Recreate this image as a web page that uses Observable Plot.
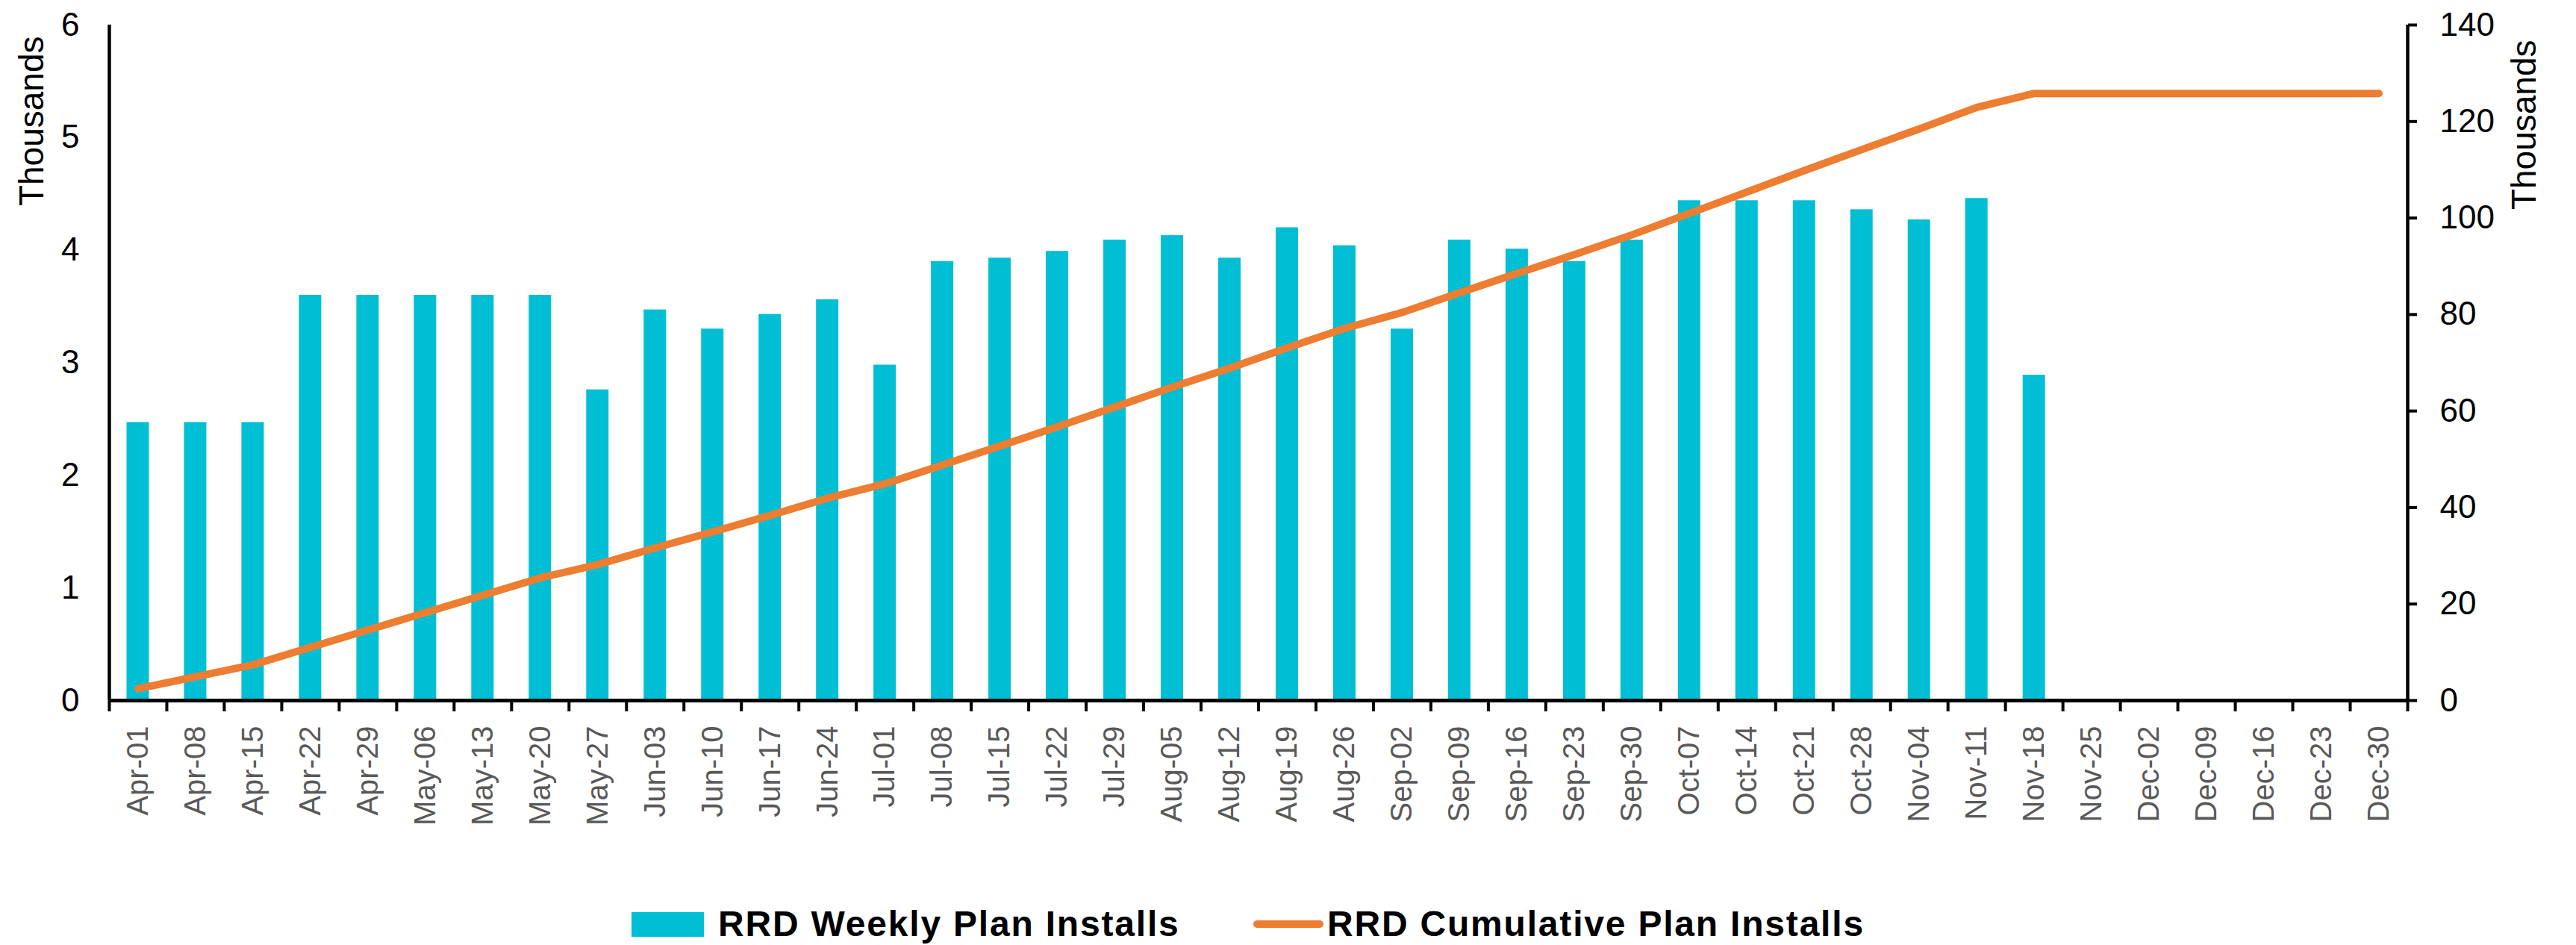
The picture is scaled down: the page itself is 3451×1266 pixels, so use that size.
<!DOCTYPE html>
<html>
<head>
<meta charset="utf-8">
<script src="https://cdn.jsdelivr.net/npm/d3@7"></script>
<script src="https://cdn.jsdelivr.net/npm/@observablehq/plot@0.6"></script>
<style>
html, body { margin: 0; padding: 0; background: #fff; }
#wrap { position: relative; width: 3451px; height: 1266px; overflow: hidden; background: #fff; }
#chart svg { display: block; }
.lg { position: absolute; font-family: "Liberation Sans", Arial, sans-serif; font-weight: bold; font-size: 48px; letter-spacing: 1.8px; color: #000; line-height: 48px; white-space: nowrap; }
.sw { position: absolute; }
</style>
</head>
<body>
<div id="wrap">
  <div id="chart"></div>
  <div id="legend"></div>
</div>
<script>
const weeks = ["Apr-01","Apr-08","Apr-15","Apr-22","Apr-29","May-06","May-13","May-20","May-27",
  "Jun-03","Jun-10","Jun-17","Jun-24","Jul-01","Jul-08","Jul-15","Jul-22","Jul-29",
  "Aug-05","Aug-12","Aug-19","Aug-26","Sep-02","Sep-09","Sep-16","Sep-23","Sep-30",
  "Oct-07","Oct-14","Oct-21","Oct-28","Nov-04","Nov-11","Nov-18","Nov-25",
  "Dec-02","Dec-09","Dec-16","Dec-23","Dec-30"];
// weekly plan installs (thousands)
const weekly = [2.47,2.47,2.47,3.60,3.60,3.60,3.60,3.60,2.76,
  3.47,3.30,3.43,3.56,2.98,3.90,3.93,3.99,4.09,
  4.13,3.93,4.20,4.04,3.30,4.09,4.01,3.90,4.09,
  4.44,4.44,4.44,4.36,4.27,4.46,2.89,null,
  null,null,null,null,null];
// cumulative plan installs (thousands)
const cumulative = [2.47,4.94,7.41,11.01,14.61,18.21,21.81,25.41,28.17,
  31.64,34.94,38.37,41.93,44.91,48.81,52.74,56.73,60.82,
  64.95,68.88,73.08,77.12,80.42,84.51,88.52,92.42,96.51,
  100.95,105.39,109.83,114.19,118.46,122.92,125.81,125.81,
  125.81,125.81,125.81,125.81,125.81];
const leftTicks = [0,1,2,3,4,5,6];
const rightTicks = [0,20,40,60,80,100,120,140];
const seriesNames = ["RRD Weekly Plan Installs", "RRD Cumulative Plan Installs"];
const colors = ["#00BFD4", "#ED7D31"];

const data = weeks.map((w, i) => ({week: w, weekly: weekly[i], cumulative: cumulative[i]}));

const W = 3451, H = 1140, mL = 146, mR = 226, mT = 33, mB = 202;
const bw = (W - mL - mR) / weeks.length;
const k = 6 / 140; // right axis -> left axis
const font = "Liberation Sans, Arial, sans-serif";

const chart = Plot.plot({
  width: W, height: H,
  marginLeft: mL, marginRight: mR, marginTop: mT, marginBottom: mB,
  style: {fontFamily: font, background: "#fff", color: "#000"},
  x: {domain: weeks, padding: 0, axis: null},
  y: {domain: [0, 6], axis: null},
  marks: [
    Plot.barY(data.filter(d => d.weekly != null), {
      x: "week", y: "weekly", fill: colors[0], insetLeft: 23.5, insetRight: 23.5
    }),
    Plot.line(data, {
      x: "week", y: d => d.cumulative * k, stroke: colors[1], strokeWidth: 10,
      strokeLinecap: "round", strokeLinejoin: "round"
    }),
    Plot.ruleY([0], {stroke: "#000", strokeWidth: 5}),
    Plot.ruleX([weeks[0]], {x: d => d, dx: -bw / 2, stroke: "#000", strokeWidth: 4.5}),
    Plot.ruleX([weeks[weeks.length - 1]], {x: d => d, dx: bw / 2, stroke: "#000", strokeWidth: 4.5}),
    // x tick marks between categories
    Plot.axisX(weeks, {tickSize: 15, fill: "none", dx: -bw / 2, stroke: "#000", strokeWidth: 4, label: null}),
    Plot.axisX([weeks[weeks.length - 1]], {tickSize: 15, fill: "none", dx: bw / 2, stroke: "#000", strokeWidth: 4, label: null}),
    // x labels
    Plot.axisX(weeks, {tickSize: 0, tickPadding: 34, tickRotate: -90, fill: "#595959", fontSize: 40, fontFamily: font, label: null}),
    // left axis
    Plot.axisY(leftTicks, {anchor: "left", tickSize: 0, tickPadding: 40, tickFormat: d => String(d),
      fontSize: 44, fill: "#000", fontFamily: font, label: null}),
    // right axis
    Plot.axisY(rightTicks.map(v => v * k), {
      anchor: "right", tickSize: 12, tickPadding: 31, stroke: "#000", strokeWidth: 4,
      tickFormat: d => String(Math.round(d / k)), fontSize: 44, fill: "#000", fontFamily: font, label: null
    }),
    Plot.text(["Thousands"], {frameAnchor: "top-left", dx: -103, dy: 15, rotate: -90, textAnchor: "end",
      lineAnchor: "middle", fontSize: 46, fill: "#000", fontFamily: font}),
    Plot.text(["Thousands"], {frameAnchor: "top-right", dx: 157, dy: 20, rotate: -90, textAnchor: "end",
      lineAnchor: "middle", fontSize: 46, fill: "#000", fontFamily: font})
  ]
});
document.getElementById("chart").appendChild(chart);

// legend
const lg = document.getElementById("legend");
const cy = 1238;
const s1 = document.createElement("div");
s1.className = "sw";
Object.assign(s1.style, {left: "846px", top: (cy - 16) + "px", width: "97px", height: "33px", background: colors[0]});
lg.appendChild(s1);
const t1 = document.createElement("div");
t1.className = "lg"; t1.textContent = seriesNames[0];
Object.assign(t1.style, {left: "962px", top: (cy - 24) + "px"});
lg.appendChild(t1);
const s2 = document.createElement("div");
s2.className = "sw";
Object.assign(s2.style, {left: "1679px", top: (cy - 5) + "px", width: "94px", height: "10px", background: colors[1], borderRadius: "5px"});
lg.appendChild(s2);
const t2 = document.createElement("div");
t2.className = "lg"; t2.textContent = seriesNames[1];
Object.assign(t2.style, {left: "1778px", top: (cy - 24) + "px"});
lg.appendChild(t2);
</script>
</body>
</html>
